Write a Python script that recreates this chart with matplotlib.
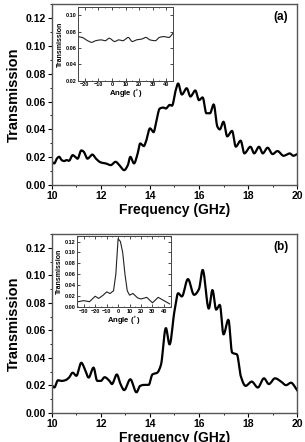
import matplotlib
matplotlib.use("Agg")
import matplotlib.pyplot as plt
from matplotlib.ticker import MultipleLocator
import numpy as np

plt.rcParams['font.family'] = ['Liberation Sans', 'DejaVu Sans']
plt.rcParams['font.weight'] = 'bold'

# Panel (a) main spectrum
freq_a = [10.0, 10.1, 10.2, 10.3, 10.4, 10.5, 10.6, 10.7, 10.85, 10.95, 11.05, 11.2, 11.3, 11.45,
          11.65, 11.8, 12.0, 12.2, 12.4, 12.6, 12.75, 12.95, 13.1, 13.2, 13.35, 13.5, 13.6, 13.75,
          13.85, 14.0, 14.15, 14.25, 14.4, 14.55, 14.65, 14.8, 14.9, 15.05, 15.15, 15.3, 15.5,
          15.65, 15.85, 16.0, 16.15, 16.3, 16.45, 16.6, 16.75, 16.85, 17.0, 17.15, 17.35, 17.5,
          17.7, 17.85, 18.1, 18.25, 18.45, 18.6, 18.8, 19.0, 19.2, 19.45, 19.7, 19.85, 20.0]
trans_a = [0.0168, 0.0156, 0.019, 0.0204, 0.018, 0.0173, 0.018, 0.0175, 0.0216, 0.0204, 0.019,
           0.025, 0.024, 0.019, 0.022, 0.019, 0.0163, 0.0156, 0.0144, 0.0168, 0.0144, 0.0108,
           0.0144, 0.0204, 0.0156, 0.0228, 0.030, 0.028, 0.032, 0.0408, 0.038, 0.045, 0.055,
           0.0557, 0.055, 0.0576, 0.057, 0.068, 0.073, 0.065, 0.0696, 0.0636, 0.068, 0.061, 0.063,
           0.0516, 0.0516, 0.058, 0.042, 0.040, 0.0456, 0.035, 0.039, 0.0276, 0.032, 0.0228,
           0.0276, 0.0228, 0.0276, 0.0228, 0.0269, 0.0223, 0.0245, 0.0211, 0.0228, 0.0211, 0.0223]

# Panel (a) inset: angle dependence
ang_a = [-25, -22, -18, -15, -12, -8, -5, -2, 2, 5, 8, 12, 15, 18, 22, 25, 28, 32, 35, 38, 42, 45]
ins_a = [0.074, 0.073, 0.069, 0.067, 0.069, 0.070, 0.069, 0.072, 0.068, 0.070, 0.069, 0.073,
         0.068, 0.070, 0.071, 0.073, 0.070, 0.069, 0.073, 0.074, 0.073, 0.078]

# Panel (b) main spectrum
freq_b = [10.0, 10.1, 10.25, 10.4, 10.55, 10.7, 10.85, 11.0, 11.2, 11.35, 11.5, 11.7, 11.85, 12.0,
          12.15, 12.35, 12.45, 12.65, 12.8, 12.95, 13.2, 13.45, 13.6, 13.75, 13.95, 14.1, 14.3,
          14.45, 14.65, 14.8, 15.0, 15.15, 15.3, 15.55, 15.8, 16.0, 16.15, 16.4, 16.55, 16.7,
          16.85, 17.0, 17.2, 17.35, 17.55, 17.7, 17.9, 18.15, 18.4, 18.65, 18.85, 19.1, 19.35,
          19.55, 19.75, 20.0]
trans_b = [0.0202, 0.0185, 0.0238, 0.0233, 0.0238, 0.0257, 0.0293, 0.027, 0.0365, 0.0317, 0.0257,
           0.033, 0.0233, 0.0233, 0.026, 0.0233, 0.021, 0.028, 0.021, 0.0166, 0.0245, 0.015,
           0.0197, 0.0204, 0.0204, 0.028, 0.0293, 0.035, 0.0618, 0.0497, 0.074, 0.087, 0.0846,
           0.0973, 0.0858, 0.090, 0.104, 0.0757, 0.0894, 0.075, 0.0786, 0.057, 0.0678, 0.0438,
           0.0425, 0.027, 0.0197, 0.0228, 0.0185, 0.0252, 0.021, 0.0252, 0.0228, 0.0202, 0.022,
           0.0166]

# Panel (b) inset
ang_b = [-35, -30, -25, -20, -17, -13, -10, -7, -4, -2, 0, 2, 4, 6, 8, 10, 13, 17, 20, 25, 30,
         35, 40, 45]
ins_b = [0.010, 0.012, 0.010, 0.020, 0.016, 0.022, 0.028, 0.025, 0.030, 0.060, 0.125, 0.120,
         0.100, 0.060, 0.030, 0.022, 0.025, 0.017, 0.015, 0.018, 0.008, 0.018, 0.012, 0.006]


def smooth(x, y, n=400):
    x = np.asarray(x, float)
    y = np.asarray(y, float)
    # monotone cubic (PCHIP-like) interpolation for a smooth line through read points
    h = np.diff(x)
    d = np.diff(y) / h
    m = np.zeros_like(y)
    for i in range(1, len(y) - 1):
        if d[i - 1] * d[i] > 0:
            w1 = 2 * h[i] + h[i - 1]
            w2 = h[i] + 2 * h[i - 1]
            m[i] = (w1 + w2) / (w1 / d[i - 1] + w2 / d[i])
    m[0] = d[0]
    m[-1] = d[-1]
    xs = np.linspace(x[0], x[-1], n)
    idx = np.clip(np.searchsorted(x, xs) - 1, 0, len(x) - 2)
    t = (xs - x[idx]) / h[idx]
    h00 = 2 * t**3 - 3 * t**2 + 1
    h10 = t**3 - 2 * t**2 + t
    h01 = -2 * t**3 + 3 * t**2
    h11 = t**3 - t**2
    ys = h00 * y[idx] + h10 * h[idx] * m[idx] + h01 * y[idx + 1] + h11 * h[idx] * m[idx + 1]
    return xs, ys


fig = plt.figure(figsize=(3.05, 4.42), dpi=100)

edge = '#555555'


def style_main(ax):
    ax.set_xlim(10, 20)
    ax.set_ylim(0, 0.13)
    ax.xaxis.set_major_locator(MultipleLocator(2))
    ax.xaxis.set_minor_locator(MultipleLocator(1))
    ax.yaxis.set_major_locator(MultipleLocator(0.02))
    ax.yaxis.set_minor_locator(MultipleLocator(0.01))
    ax.tick_params(which='major', direction='out', length=3, width=0.8, labelsize=7.5, pad=1.5)
    ax.tick_params(which='minor', direction='out', length=1.5, width=0.6)
    for lab in ax.get_xticklabels() + ax.get_yticklabels():
        lab.set_fontweight('bold')
    ax.set_yticklabels([f"{v:.2f}" for v in ax.get_yticks()])
    for s in ax.spines.values():
        s.set_color(edge)
        s.set_linewidth(1.0)
    ax.set_xlabel('Frequency (GHz)', fontsize=10, fontweight='bold', labelpad=1)
    ax.set_ylabel('Transmission', fontsize=10.5, fontweight='bold', labelpad=3)


def style_inset(ax, xlim, ylim, yticks, xticks):
    ax.set_xlim(*xlim)
    ax.set_ylim(*ylim)
    ax.set_xticks(xticks)
    ax.set_yticks(yticks)
    ax.set_yticklabels([f"{v:.2f}" for v in yticks])
    ax.xaxis.set_minor_locator(MultipleLocator(5))
    ax.tick_params(which='major', direction='in', length=2, width=0.5, labelsize=4, pad=1,
                   top=True, right=True)
    ax.tick_params(which='minor', direction='in', length=1, width=0.4, top=True, right=True)
    for lab in ax.get_xticklabels() + ax.get_yticklabels():
        lab.set_fontweight('bold')
    for s in ax.spines.values():
        s.set_color('#444444')
        s.set_linewidth(0.7)
    ax.set_xlabel('Angle ($^{\\circ}$)', fontsize=5.5, fontweight='bold', labelpad=0.5)
    ax.set_ylabel('Transmission', fontsize=5, fontweight='bold', labelpad=1)


# Panel (a)
ax1 = fig.add_axes([0.170, 0.581, 0.804, 0.410])
xs, ys = smooth(freq_a, trans_a)
ax1.plot(xs, ys, color='black', lw=1.6)
style_main(ax1)
ax1.text(0.965, 0.93, '(a)', transform=ax1.transAxes, ha='right', va='center',
         fontsize=8.5, fontweight='bold')

ins1 = fig.add_axes([0.256, 0.817, 0.311, 0.167])
xs, ys = smooth(ang_a, ins_a, 200)
ins1.plot(xs, ys, color='#222222', lw=0.8)
style_inset(ins1, (-25, 45), (0.02, 0.11), [0.02, 0.04, 0.06, 0.08, 0.10],
            [-20, -10, 0, 10, 20, 30, 40])

# Panel (b)
ax2 = fig.add_axes([0.170, 0.0656, 0.804, 0.405])
xs, ys = smooth(freq_b, trans_b)
ax2.plot(xs, ys, color='black', lw=1.6)
style_main(ax2)
ax2.text(0.965, 0.93, '(b)', transform=ax2.transAxes, ha='right', va='center',
         fontsize=8.5, fontweight='bold')

ins2 = fig.add_axes([0.252, 0.305, 0.308, 0.161])
ins2.plot(ang_b, ins_b, color='#222222', lw=0.8)
style_inset(ins2, (-36, 46), (0.0, 0.13), [0.00, 0.02, 0.04, 0.06, 0.08, 0.10, 0.12],
            [-30, -20, -10, 0, 10, 20, 30, 40])

fig.savefig('out.png', dpi=100)
